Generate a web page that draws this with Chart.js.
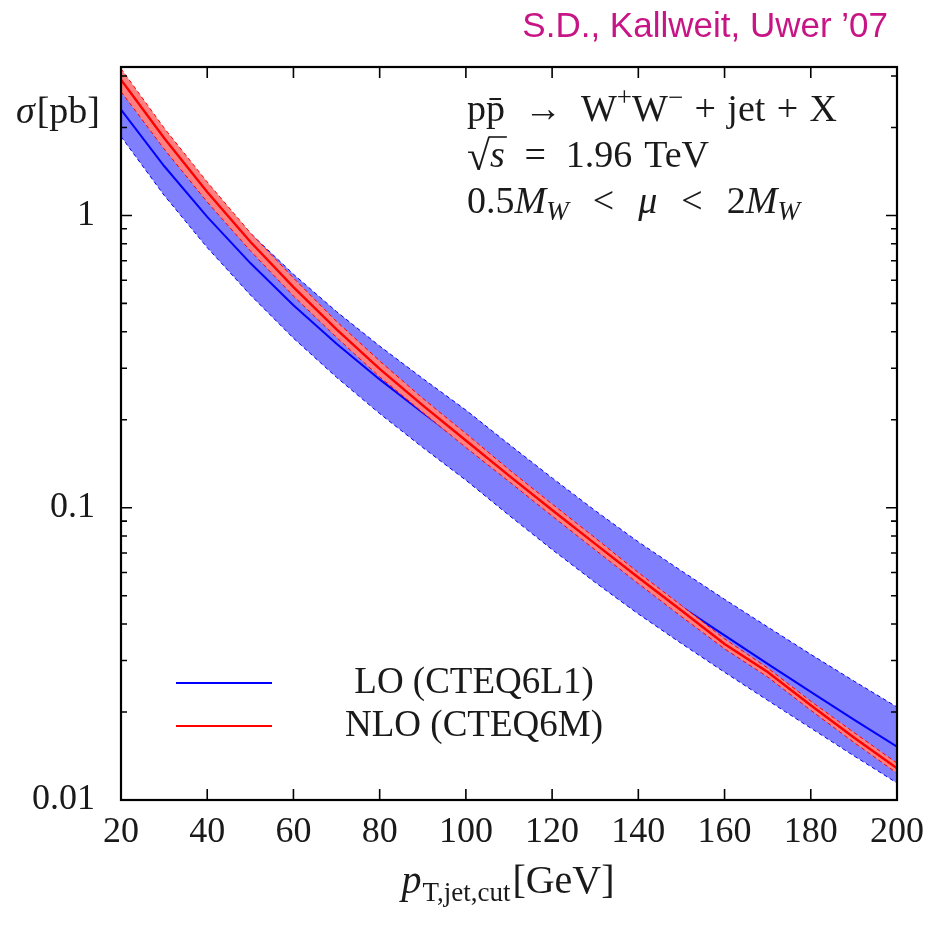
<!DOCTYPE html>
<html><head><meta charset="utf-8">
<script src="https://cdn.jsdelivr.net/npm/chart.js@4.4.1/dist/chart.umd.min.js"></script>
<style>html,body{margin:0;padding:0;background:#fff;}canvas{display:block;}</style>
</head><body>
<canvas id="c" width="950" height="932"></canvas>
<script>
// ---- data ----
const ptCut = [20,30,40,50,60,70,80,90,100,110,120,130,140,150,160,170,180,190,200];
const loCentral = [2.301,1.476,0.9886,0.6871,0.4932,0.3639,0.2748,0.2113,0.1641,0.1250,0.0957,0.0740,0.0577,0.0458,0.0366,0.02924,0.02344,0.01884,0.01521];
const loUpper   = [2.897,1.858,1.2445,0.8690,0.6295,0.4688,0.3573,0.2767,0.2158,0.1648,0.1265,0.0977,0.0764,0.0608,0.0486,0.0391,0.0315,0.02553,0.02080];
const loLower   = [1.862,1.1722,0.7762,0.5346,0.3802,0.2793,0.2099,0.1607,0.1242,0.0942,0.0719,0.0555,0.0433,0.0343,0.02735,0.02193,0.01762,0.01416,0.01143];
const nloCentral = [2.915,1.8408,1.2023,0.8128,0.5689,0.4074,0.2985,0.2239,0.1698,0.1288,0.0982,0.0752,0.0577,0.0445,0.0342,0.02742,0.02109,0.01637,0.01285];
const nloUpper   = [3.179,1.992,1.301,0.8725,0.6107,0.4339,0.3179,0.2366,0.1794,0.1350,0.1030,0.0788,0.0600,0.0463,0.0356,0.0283,0.02177,0.01703,0.01337];
const nloLower   = [2.652,1.688,1.111,0.7572,0.5300,0.3825,0.2803,0.2119,0.1607,0.1229,0.0937,0.0717,0.0550,0.0424,0.0329,0.02636,0.02027,0.01574,0.01235];
const seriesLabels = ['LO (CTEQ6L1)', 'NLO (CTEQ6M)'];
const xTickValues = [20,40,60,80,100,120,140,160,180,200];
const yTickValues = [0.01, 0.1, 1];
const yTickLabels = ['0.01', '0.1', '1'];
const xRange = [20, 200];
const yRange = [0.01, 3.22];

// ---- styling ----
const SERIF = '"Liberation Serif","DejaVu Serif",serif';
const SANS = '"Liberation Sans",Arial,sans-serif';
const TEXT = '#1a1a1a';
const BLUE = '#0000ff', BLUE_FILL = '#8080ff';
const RED = '#ff0000', RED_FILL = '#ff8080';

const pts = arr => arr.map((v, i) => ({x: ptCut[i], y: v}));
function isNice(v){ const e=Math.floor(Math.log10(v)+1e-9); const s=v/Math.pow(10,e); return Math.abs(s-Math.round(s))<1e-6; }
function isDecade(v){ const l=Math.log10(v); return Math.abs(l-Math.round(l))<1e-6; }

function txt(ctx, s, x, y, font, align){
  ctx.font = font; ctx.textAlign = align || 'left'; ctx.fillText(s, x, y);
  return x + ctx.measureText(s).width;
}
// lay out a run of text pieces from x0 so that it ends at xEnd, spreading the extra room over the weighted gaps
function flow(ctx, items, x0, base, xEnd, center){
  ctx.textAlign = 'left';
  let nat = 0, G = 0;
  items.forEach(it => { ctx.font = it.f; it.w = ctx.measureText(it.t).width; nat += it.w + (it.px || 0); G += (it.g || 0); });
  const extra = xEnd != null && G > 0 ? Math.max(0, xEnd - x0 - nat) / G : 0;
  let x = center != null ? center - nat / 2 : x0; const pos = [];
  items.forEach(it => {
    x += (it.g || 0) * extra + (it.px || 0);
    ctx.font = it.f; ctx.fillText(it.t, x, base + (it.dy || 0));
    pos.push([x, x + it.w]);
    x += it.w;
  });
  return pos;
}

const decorPlugin = {
  id: 'decor',
  beforeDraw(chart){
    const ctx = chart.ctx; ctx.save(); ctx.fillStyle = '#fff'; ctx.fillRect(0,0,chart.width,chart.height); ctx.restore();
  },
  afterDatasetsDraw(chart){
    const {ctx, chartArea: a, scales} = chart;
    ctx.save();
    ctx.strokeStyle = '#000'; ctx.lineWidth = 1.6;
    const ys = scales.y;
    ys.ticks.forEach(t => {
      const py = ys.getPixelForValue(t.value);
      if (py < a.top + 1 || py > a.bottom - 1) return;
      const len = isDecade(t.value) ? 11 : 6;
      ctx.beginPath();
      ctx.moveTo(a.left, py); ctx.lineTo(a.left + len, py);
      ctx.moveTo(a.right, py); ctx.lineTo(a.right - len, py);
      ctx.stroke();
    });
    const xs = scales.x;
    xs.ticks.forEach(t => {
      const px = xs.getPixelForValue(t.value);
      ctx.beginPath();
      ctx.moveTo(px, a.bottom); ctx.lineTo(px, a.bottom - 11);
      ctx.moveTo(px, a.top); ctx.lineTo(px, a.top + 11);
      ctx.stroke();
    });
    ctx.lineWidth = 2.2;
    ctx.strokeRect(a.left, a.top, a.right - a.left, a.bottom - a.top);
    ctx.restore();
  },
  afterDraw(chart){
    const {ctx, chartArea: a} = chart;
    ctx.save();
    ctx.fillStyle = TEXT; ctx.textBaseline = 'alphabetic';
    const R = '38px ' + SERIF, I = 'italic 38px ' + SERIF, S = '27px ' + SERIF, SI = 'italic 27px ' + SERIF;
    // credit
    ctx.fillStyle = '#c71585';
    txt(ctx, 'S.D., Kallweit, Uwer \u201907', 888, 37, '35px ' + SANS, 'right');
    ctx.fillStyle = TEXT;
    // process annotation
    flow(ctx, [
      {t: 'pp\u0304', f: R}, {t: '\u2192', f: R, g: 1}, {t: 'W', f: R, g: 1},
      {t: '+', f: S, dy: -15}, {t: 'W', f: R}, {t: '\u2212', f: S, dy: -15},
      {t: '+', f: R, g: 0.6}, {t: 'jet', f: R, g: 0.6}, {t: '+', f: R, g: 0.6}, {t: 'X', f: R, g: 0.6}
    ], 467, 121, 837);
    const p2 = flow(ctx, [
      {t: '\u221A', f: '42px ' + SERIF, dy: 3}, {t: 's', f: I},
      {t: '=', f: R, g: 1}, {t: '1.96', f: R, g: 1}, {t: 'TeV', f: R, g: 0.6}
    ], 467, 167, 709);
    ctx.strokeStyle = TEXT; ctx.lineWidth = 1.6;
    ctx.beginPath(); ctx.moveTo(p2[0][1] - 1, 137); ctx.lineTo(p2[1][1] + 2, 137); ctx.stroke();
    flow(ctx, [
      {t: '0.5', f: R}, {t: 'M', f: I}, {t: 'W', f: SI, dy: 7},
      {t: '<', f: R, g: 1}, {t: '\u03BC', f: I, g: 1}, {t: '<', f: R, g: 1},
      {t: '2', f: R, g: 1}, {t: 'M', f: I}, {t: 'W', f: SI, dy: 7}
    ], 467, 213, 800);
    // y axis title
    flow(ctx, [{t: '\u03C3', f: I}, {t: '[pb]', f: R, g: 1}], 16, 123, 100);
    // x axis title (centred under the plot)
    flow(ctx, [{t: 'p', f: 'italic 40px ' + SERIF}, {t: 'T,jet,cut', f: S, dy: 8, px: 1}, {t: '[GeV]', f: '40px ' + SERIF, px: 2}], 0, 893, null, 508);
    // legend
    const legend = [{label: chart.data.datasets[4].label, color: BLUE, y: 683},
                    {label: chart.data.datasets[5].label, color: RED, y: 726}];
    legend.forEach(l => {
      ctx.strokeStyle = l.color; ctx.lineWidth = 2;
      ctx.beginPath(); ctx.moveTo(a.left + 55, l.y); ctx.lineTo(a.left + 151, l.y); ctx.stroke();
      ctx.textBaseline = 'middle';
      txt(ctx, l.label, 474, l.y, '37px ' + SERIF, 'center');
    });
    ctx.restore();
  }
};

const common = {pointRadius: 0, pointHoverRadius: 0, tension: 0};
new Chart(document.getElementById('c'), {
  type: 'line',
  data: {
    datasets: [
      {...common, label: 'LO upper', data: pts(loUpper), borderColor: BLUE, borderWidth: 1, borderDash: [4,3], backgroundColor: BLUE_FILL, fill: '+1', order: 6},
      {...common, label: 'LO lower', data: pts(loLower), borderColor: BLUE, borderWidth: 1, borderDash: [4,3], fill: false, order: 5},
      {...common, label: 'NLO upper', data: pts(nloUpper), borderColor: RED, borderWidth: 1, borderDash: [4,3], backgroundColor: RED_FILL, fill: '+1', order: 3},
      {...common, label: 'NLO lower', data: pts(nloLower), borderColor: RED, borderWidth: 1, borderDash: [4,3], fill: false, order: 2},
      {...common, label: seriesLabels[0], data: pts(loCentral), borderColor: BLUE, borderWidth: 2, fill: false, order: 4},
      {...common, label: seriesLabels[1], data: pts(nloCentral), borderColor: RED, borderWidth: 2.4, fill: false, order: 1}
    ]
  },
  options: {
    responsive: false, animation: false, devicePixelRatio: 1,
    layout: {padding: {top: 67, right: 53, left: 0, bottom: 0}},
    plugins: {legend: {display: false}, tooltip: {enabled: false}},
    scales: {
      x: {
        type: 'linear', min: xRange[0], max: xRange[1],
        afterBuildTicks: s => { s.ticks = xTickValues.map(v => ({value: v})); },
        afterFit: s => { s.height = 132; },
        grid: {display: false, drawTicks: false}, border: {display: false},
        ticks: {font: {family: SERIF, size: 36}, color: TEXT, padding: 11, maxRotation: 0, autoSkip: false}
      },
      y: {
        type: 'logarithmic', min: yRange[0], max: yRange[1],
        afterBuildTicks: s => { s.ticks = s.ticks.filter(t => isNice(t.value)); },
        afterFit: s => { s.width = 121; },
        grid: {display: false, drawTicks: false}, border: {display: false},
        ticks: {font: {family: SERIF, size: 36}, color: TEXT, padding: 26, autoSkip: false,
          callback: v => { const i = yTickValues.findIndex(t => Math.abs(t - v) / t < 1e-6); return i >= 0 ? yTickLabels[i] : ''; }}
      }
    }
  },
  plugins: [decorPlugin]
});
</script>
</body></html>
